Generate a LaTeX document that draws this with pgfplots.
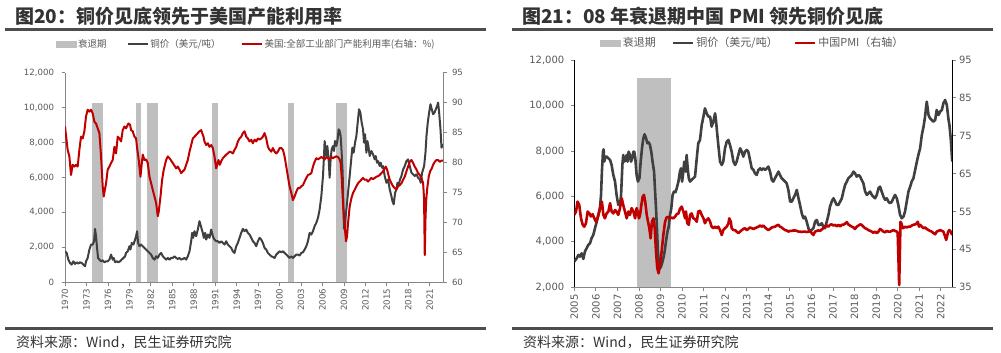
\documentclass[border=0pt]{standalone}
\usepackage{pgfplots}
\pgfplotsset{compat=1.18}
\usepackage{pgfplotstable}
\usepackage{fontspec}
\setmainfont{DejaVu Sans}
\newfontfamily\cjk{Noto Sans CJK SC}
\newfontfamily\dvs{DejaVu Sans}
\definecolor{recgray}{RGB}{191,191,191}
\definecolor{cugray}{RGB}{64,64,64}
\definecolor{cured}{RGB}{192,0,0}
\definecolor{tickc}{RGB}{89,89,89}
\definecolor{titlec}{RGB}{51,51,51}
\definecolor{rulec}{RGB}{77,77,77}
\definecolor{axc}{RGB}{134,134,134}

\pgfplotstableread{
x y
1970.00 1762
1970.23 1667
1970.47 1284
1970.70 1092
1970.93 996
1971.17 1188
1971.40 1034
1971.63 1130
1971.87 1054
1972.10 1130
1972.33 1092
1972.57 996
1972.80 900
1972.94 1188
1973.17 1379
1973.41 1858
1973.64 2146
1973.87 2146
1974.06 2337
1974.20 3046
1974.34 2625
1974.48 1954
1974.62 1379
1974.81 1284
1975.04 1188
1975.27 1245
1975.51 1130
1975.74 1188
1975.97 1188
1976.21 1284
1976.44 1571
1976.67 1284
1976.81 1379
1977.00 1130
1977.23 1188
1977.47 1130
1977.70 1188
1977.93 1284
1978.17 1379
1978.40 1475
1978.54 1667
1978.77 1762
1979.01 2050
1979.15 1858
1979.33 2241
1979.57 2146
1979.80 2433
1979.94 2625
1980.08 2912
1980.22 2241
1980.41 2050
1980.64 2146
1980.87 2050
1981.11 1954
1981.34 1858
1981.57 1762
1981.81 1667
1982.04 1571
1982.27 1379
1982.51 1284
1982.74 1475
1982.97 1379
1983.21 1571
1983.44 1667
1983.67 1475
1983.91 1379
1984.14 1284
1984.37 1379
1984.61 1284
1984.84 1379
1985.07 1379
1985.31 1475
1985.54 1379
1985.77 1322
1986.01 1379
1986.24 1284
1986.47 1322
1986.71 1379
1986.94 1284
1987.17 1475
1987.41 1762
1987.64 2337
1987.78 2816
1987.92 2529
1988.10 2912
1988.34 2625
1988.57 3008
1988.80 3487
1988.94 3295
1989.13 3008
1989.27 2816
1989.41 2529
1989.60 2816
1989.74 2433
1989.97 2720
1990.20 2529
1990.44 3008
1990.67 2625
1990.90 2433
1991.14 2337
1991.37 2337
1991.60 2241
1991.84 2337
1992.07 2241
1992.30 2146
1992.54 2337
1992.77 2146
1993.00 2050
1993.24 1954
1993.47 1762
1993.70 1667
1993.94 2050
1994.17 2241
1994.40 2529
1994.64 2816
1994.87 3046
1995.10 2912
1995.34 3008
1995.57 2816
1995.80 2720
1996.04 2529
1996.27 2337
1996.50 2241
1996.74 2050
1996.97 2337
1997.20 2529
1997.44 2433
1997.67 2241
1997.90 1954
1998.14 1858
1998.37 1667
1998.60 1571
1998.84 1475
1999.07 1437
1999.30 1379
1999.54 1571
1999.77 1667
2000.00 1762
2000.24 1705
2000.47 1762
2000.70 1667
2000.94 1571
2001.17 1475
2001.40 1379
2001.64 1475
2001.87 1379
2002.10 1475
2002.34 1571
2002.57 1571
2002.80 1514
2003.04 1667
2003.27 1705
2003.50 1858
2003.74 2050
2003.97 2337
2004.20 2816
2004.44 2720
2004.67 2912
2004.90 3199
2005.14 3391
2005.37 3678
2005.60 4157
2005.84 4923
2006.07 6073
2006.21 7222
2006.30 8084
2006.44 7605
2006.54 7222
2006.68 7797
2006.86 7031
2007.00 5977
2007.14 7031
2007.28 7605
2007.47 7797
2007.61 7509
2007.75 8084
2007.94 7797
2008.12 8180
2008.26 8755
2008.40 8659
2008.54 8372
2008.68 7414
2008.82 6264
2008.92 4500
2009.00 3100
2009.10 3000
2009.20 3600
2009.34 4157
2009.57 5115
2009.80 6073
2010.04 7126
2010.18 7701
2010.36 7414
2010.55 7989
2010.74 8372
2010.97 9330
2011.11 9904
2011.30 9713
2011.48 9138
2011.67 8755
2011.81 7989
2011.95 8467
2012.14 7414
2012.28 8084
2012.42 7797
2012.60 7222
2012.84 7509
2013.07 7318
2013.30 7031
2013.44 7222
2013.63 6839
2013.77 6935
2014.00 6648
2014.14 6839
2014.33 6552
2014.47 6648
2014.70 6073
2014.94 5690
2015.17 5881
2015.40 5307
2015.64 4923
2015.78 4636
2015.96 4450
2016.15 5115
2016.34 5307
2016.48 5690
2016.66 5594
2016.85 5881
2017.04 6073
2017.27 6456
2017.50 6648
2017.74 6935
2017.97 7031
2018.20 6648
2018.44 6264
2018.67 6169
2018.90 6073
2019.14 6169
2019.37 5977
2019.60 5881
2019.74 5690
2019.93 6264
2020.07 6456
2020.21 6648
2020.40 7414
2020.54 8372
2020.72 9138
2020.91 9713
2021.10 10192
2021.28 9904
2021.47 9617
2021.66 9713
2021.84 9904
2022.03 10096
2022.17 10287
2022.31 9713
2022.50 8755
2022.64 7701
2022.77 7797
2022.87 7893
}\lcopper

\pgfplotstableread{
x y
1970.00 86.0
1970.37 82.1
1970.61 81.0
1970.84 77.9
1971.07 79.6
1971.31 79.3
1971.54 79.6
1971.77 79.3
1972.01 82.1
1972.24 84.3
1972.47 84.0
1972.71 85.2
1972.94 87.7
1973.17 88.8
1973.41 88.5
1973.64 88.8
1973.87 88.2
1974.11 86.8
1974.34 86.5
1974.57 85.7
1974.81 84.9
1975.04 81.0
1975.27 76.0
1975.41 74.3
1975.74 76.5
1975.97 78.8
1976.21 79.3
1976.44 79.9
1976.67 80.4
1976.91 82.6
1977.14 81.5
1977.37 84.3
1977.61 84.0
1977.84 83.5
1978.07 85.4
1978.31 86.0
1978.54 85.7
1978.87 86.5
1979.10 86.3
1979.24 85.4
1979.47 85.2
1979.71 84.3
1979.94 84.0
1980.08 82.4
1980.31 80.4
1980.55 77.6
1980.69 79.3
1980.87 81.3
1981.11 80.4
1981.34 80.5
1981.57 79.9
1981.81 77.6
1982.04 76.5
1982.27 75.4
1982.51 74.3
1982.74 73.2
1982.97 71.0
1983.11 71.8
1983.35 74.3
1983.58 77.1
1983.81 78.8
1984.14 80.4
1984.37 81.0
1984.61 80.7
1985.07 79.9
1985.54 79.0
1985.77 79.3
1986.01 78.8
1986.24 78.2
1986.47 78.5
1986.71 78.8
1987.17 80.4
1987.41 81.8
1987.64 82.9
1987.87 84.0
1988.10 84.3
1988.34 84.6
1988.57 84.9
1988.80 85.2
1989.04 85.4
1989.18 84.9
1989.36 84.3
1989.50 83.5
1989.74 82.9
1989.97 83.2
1990.20 82.6
1990.44 82.9
1990.67 82.4
1990.90 81.0
1991.14 79.0
1991.28 79.6
1991.46 80.4
1991.65 79.6
1991.84 80.2
1992.07 80.7
1992.30 81.0
1992.54 81.3
1992.77 81.5
1993.00 81.8
1993.24 81.7
1993.47 81.5
1993.70 82.1
1993.94 82.6
1994.17 83.5
1994.40 84.0
1994.64 84.3
1994.87 84.9
1995.10 85.2
1995.34 84.3
1995.57 84.0
1995.80 83.5
1996.04 83.8
1996.27 83.2
1996.50 83.8
1996.74 83.5
1996.97 84.0
1997.20 83.8
1997.44 84.0
1997.67 84.3
1997.90 84.9
1998.14 84.0
1998.37 82.6
1998.60 82.1
1998.84 81.8
1999.07 82.4
1999.30 81.8
1999.54 81.5
1999.77 81.8
2000.00 82.4
2000.24 82.4
2000.47 82.1
2000.70 81.0
2000.94 79.3
2001.17 77.6
2001.40 76.0
2001.64 74.9
2001.87 73.7
2002.10 74.3
2002.34 75.1
2002.57 75.7
2002.80 75.7
2003.04 76.0
2003.27 76.2
2003.50 76.8
2003.74 77.4
2003.97 77.9
2004.20 78.0
2004.44 78.2
2004.67 79.3
2004.90 80.1
2005.14 80.7
2005.37 80.5
2005.60 80.7
2005.84 80.9
2006.07 80.7
2006.30 80.5
2006.54 80.9
2006.77 80.7
2007.00 80.5
2007.24 80.9
2007.47 80.7
2007.70 80.9
2007.94 81.0
2008.17 80.9
2008.40 80.5
2008.54 79.9
2008.68 77.6
2008.82 74.3
2008.96 71.5
2009.15 68.7
2009.29 66.8
2009.43 67.6
2009.57 69.8
2009.80 72.6
2010.04 74.0
2010.27 74.9
2010.50 75.4
2010.74 76.0
2010.97 76.5
2011.20 76.8
2011.44 77.1
2011.67 77.4
2011.90 77.1
2012.14 77.1
2012.37 76.8
2012.60 77.1
2012.84 77.4
2013.07 77.2
2013.30 77.4
2013.54 77.6
2013.77 77.7
2014.00 77.9
2014.24 78.2
2014.47 78.5
2014.70 79.0
2014.84 79.3
2015.03 78.8
2015.22 77.9
2015.40 77.1
2015.64 76.5
2015.87 76.0
2016.10 75.7
2016.34 75.5
2016.57 76.0
2016.80 76.2
2017.04 76.5
2017.27 77.1
2017.50 77.6
2017.74 78.5
2017.97 79.3
2018.20 80.1
2018.44 80.4
2018.67 79.9
2018.90 79.3
2019.14 78.8
2019.37 78.2
2019.60 77.9
2019.84 77.4
2020.07 76.5
2020.20 74.0
2020.30 64.5
2020.40 70.5
2020.50 73.7
2020.65 75.7
2020.85 77.6
2021.05 78.5
2021.28 79.0
2021.47 79.6
2021.70 80.1
2021.94 80.4
2022.17 80.4
2022.40 80.1
2022.64 80.3
2022.87 80.3
}\lcap

\pgfplotstableread{
x y
2005.00 3131
2005.11 3277
2005.19 3424
2005.26 3351
2005.34 3497
2005.42 3248
2005.49 3570
2005.57 3717
2005.65 3864
2005.73 3937
2005.80 4157
2005.88 4304
2005.96 4597
2006.04 4890
2006.11 5183
2006.19 5477
2006.24 6063
2006.28 7089
2006.33 7968
2006.36 8071
2006.39 7529
2006.44 7749
2006.50 7749
2006.58 7676
2006.66 7602
2006.73 7382
2006.81 6943
2006.89 6650
2006.96 6063
2007.04 5623
2007.12 5623
2007.17 6063
2007.23 7382
2007.27 7822
2007.32 7529
2007.37 7602
2007.43 7822
2007.47 7529
2007.52 7968
2007.58 7822
2007.63 7529
2007.69 7676
2007.74 7968
2007.78 7968
2007.83 7676
2007.89 6943
2007.95 6650
2008.02 6796
2008.08 7529
2008.14 8115
2008.20 8555
2008.26 8731
2008.33 8555
2008.39 8335
2008.45 8379
2008.51 8262
2008.57 7968
2008.63 7529
2008.70 7089
2008.74 6356
2008.79 5477
2008.84 4450
2008.88 3570
2008.93 2984
2008.98 2838
2009.02 2911
2009.07 3057
2009.13 3277
2009.19 3570
2009.25 4010
2009.32 4450
2009.38 4670
2009.44 5183
2009.50 5477
2009.56 6063
2009.62 6210
2009.69 6180
2009.75 6356
2009.83 6650
2009.90 7089
2009.95 7236
2010.00 6650
2010.04 6943
2010.10 7529
2010.17 7089
2010.21 7822
2010.26 7236
2010.31 6796
2010.37 6650
2010.44 6723
2010.52 6796
2010.60 6869
2010.68 7676
2010.75 8335
2010.83 8482
2010.91 9141
2010.99 9508
2011.06 9874
2011.14 9655
2011.22 9508
2011.30 9508
2011.37 9068
2011.45 9288
2011.53 9655
2011.57 9361
2011.62 8848
2011.68 8262
2011.76 7529
2011.84 7382
2011.91 7529
2011.99 8115
2012.07 8409
2012.15 8482
2012.22 8262
2012.30 7968
2012.38 7529
2012.46 7382
2012.53 7529
2012.61 7822
2012.69 8115
2012.77 7968
2012.84 7749
2012.92 7968
2013.00 8042
2013.07 7968
2013.15 7602
2013.23 7236
2013.31 7162
2013.38 7016
2013.46 6943
2013.54 7162
2013.62 7236
2013.69 7162
2013.77 7236
2013.85 7162
2013.93 7236
2014.00 7309
2014.08 7089
2014.16 6723
2014.23 6650
2014.31 6796
2014.39 6943
2014.47 7089
2014.54 6943
2014.62 6796
2014.70 6723
2014.78 6650
2014.85 6576
2014.93 6283
2015.01 5770
2015.09 5770
2015.16 5916
2015.24 6063
2015.32 6283
2015.40 5916
2015.47 5623
2015.55 5257
2015.63 5037
2015.70 5110
2015.78 4890
2015.86 4597
2015.94 4450
2016.01 4523
2016.09 4597
2016.17 4890
2016.25 4963
2016.32 4743
2016.40 4743
2016.48 4817
2016.55 4670
2016.63 4597
2016.71 4890
2016.79 5183
2016.86 5550
2016.94 5770
2017.02 5916
2017.10 5770
2017.17 5623
2017.25 5623
2017.33 5770
2017.41 5916
2017.48 6210
2017.56 6503
2017.64 6650
2017.71 6796
2017.79 6869
2017.87 6943
2017.95 7089
2018.02 7016
2018.10 6869
2018.18 6943
2018.26 6869
2018.33 6723
2018.41 6576
2018.49 6210
2018.57 6063
2018.64 6136
2018.72 6210
2018.80 6063
2018.87 5990
2018.95 5916
2019.03 6063
2019.11 6356
2019.18 6430
2019.26 6210
2019.34 5990
2019.42 5843
2019.49 5916
2019.57 5770
2019.65 5696
2019.73 5770
2019.80 5916
2019.88 6063
2019.96 5916
2020.03 5623
2020.11 5183
2020.19 5037
2020.27 5110
2020.34 5330
2020.42 5770
2020.50 6210
2020.58 6430
2020.65 6650
2020.73 6796
2020.81 7162
2020.89 7529
2020.96 7822
2021.04 8115
2021.12 8702
2021.20 9068
2021.27 9508
2021.32 9948
2021.35 10167
2021.43 9581
2021.50 9435
2021.58 9361
2021.66 9288
2021.74 9361
2021.81 9801
2021.89 9581
2021.97 9728
2022.05 9801
2022.12 10094
2022.20 10240
2022.28 10021
2022.36 9361
2022.40 9141
2022.46 8555
2022.53 7529
}\rcopper

\pgfplotstableread{
x y
2005.00 54.1
2005.08 55.0
2005.15 57.6
2005.23 56.7
2005.31 53.2
2005.39 51.5
2005.46 51.0
2005.54 51.9
2005.62 55.0
2005.70 54.5
2005.77 53.7
2005.85 54.3
2005.93 53.2
2006.01 52.3
2006.08 53.2
2006.16 55.0
2006.24 57.2
2006.28 57.6
2006.35 54.1
2006.42 53.2
2006.50 54.5
2006.58 55.0
2006.66 57.2
2006.73 55.0
2006.81 54.5
2006.89 55.4
2006.96 55.0
2007.04 54.1
2007.12 55.9
2007.20 58.5
2007.27 56.7
2007.35 55.0
2007.43 53.2
2007.51 55.0
2007.58 54.1
2007.66 55.9
2007.74 55.0
2007.82 53.2
2007.89 55.9
2007.94 55.0
2008.00 53.2
2008.05 54.1
2008.11 56.7
2008.17 58.9
2008.23 59.4
2008.29 57.6
2008.36 54.1
2008.42 52.3
2008.48 50.6
2008.54 47.9
2008.60 52.3
2008.67 53.2
2008.73 50.6
2008.79 44.4
2008.85 40.0
2008.91 38.7
2008.98 40.9
2009.05 44.4
2009.13 48.8
2009.21 52.3
2009.28 53.4
2009.36 53.6
2009.44 53.2
2009.52 53.4
2009.59 53.2
2009.67 53.6
2009.75 54.3
2009.83 54.5
2009.90 55.7
2009.98 56.3
2010.06 55.0
2010.14 53.2
2010.18 55.0
2010.24 51.9
2010.31 51.5
2010.37 54.1
2010.44 54.5
2010.52 53.2
2010.60 53.0
2010.68 52.3
2010.75 55.0
2010.83 55.2
2010.91 54.1
2010.99 53.2
2011.06 51.9
2011.14 52.8
2011.22 53.2
2011.30 52.3
2011.37 51.0
2011.45 50.6
2011.53 51.0
2011.61 50.6
2011.68 51.0
2011.76 50.1
2011.84 48.8
2011.91 50.1
2011.99 50.6
2012.07 51.0
2012.15 51.9
2012.19 53.2
2012.26 52.3
2012.30 50.6
2012.38 50.1
2012.46 50.1
2012.53 49.7
2012.61 49.3
2012.69 49.7
2012.77 50.1
2012.84 50.4
2012.92 50.6
2013.00 50.1
2013.07 50.4
2013.15 50.8
2013.23 50.6
2013.31 50.4
2013.38 50.6
2013.46 50.8
2013.54 51.0
2013.62 51.3
2013.69 51.0
2013.77 51.3
2013.85 50.8
2013.93 50.4
2014.00 50.1
2014.08 50.4
2014.16 50.8
2014.23 50.9
2014.31 51.0
2014.39 51.3
2014.47 51.5
2014.54 51.0
2014.62 50.8
2014.70 50.4
2014.78 50.1
2014.85 50.0
2014.93 49.7
2015.01 49.9
2015.09 49.9
2015.16 50.0
2015.24 50.0
2015.32 49.9
2015.40 49.7
2015.47 49.7
2015.55 49.6
2015.63 49.7
2015.70 49.7
2015.78 49.6
2015.86 49.7
2015.94 49.9
2016.01 49.3
2016.09 48.8
2016.17 49.7
2016.25 49.9
2016.32 50.0
2016.40 49.9
2016.55 50.6
2016.63 51.0
2016.71 51.3
2016.79 51.0
2016.86 51.5
2016.94 51.6
2017.02 51.3
2017.10 51.5
2017.17 51.1
2017.25 51.5
2017.33 51.1
2017.41 51.5
2017.48 51.5
2017.56 51.8
2017.64 52.2
2017.71 51.6
2017.79 51.3
2017.87 51.0
2017.95 50.8
2018.02 50.4
2018.10 51.0
2018.18 51.3
2018.26 51.6
2018.33 51.5
2018.41 51.0
2018.49 50.6
2018.57 50.4
2018.64 50.1
2018.72 49.9
2018.80 49.7
2018.87 49.4
2018.95 49.7
2019.03 49.3
2019.11 49.7
2019.18 50.4
2019.26 50.1
2019.34 49.7
2019.42 49.5
2019.49 49.9
2019.57 49.7
2019.65 49.7
2019.73 49.9
2019.80 50.1
2019.88 49.9
2019.96 49.7
2020.00 49.3
2020.03 43.5
2020.07 35.6
2020.10 43.5
2020.13 52.3
2020.17 51.9
2020.24 50.6
2020.30 50.8
2020.36 51.0
2020.42 50.8
2020.50 51.0
2020.58 51.0
2020.65 51.3
2020.73 51.5
2020.81 51.6
2020.89 51.9
2020.93 52.3
2020.99 51.0
2021.04 51.5
2021.12 51.0
2021.20 50.6
2021.27 50.8
2021.35 50.4
2021.43 50.1
2021.50 49.9
2021.58 49.7
2021.66 49.3
2021.74 49.0
2021.81 49.7
2021.89 49.9
2021.97 50.1
2022.05 49.9
2022.12 49.7
2022.20 48.4
2022.25 47.5
2022.29 48.4
2022.34 49.7
2022.40 50.1
2022.46 49.7
2022.53 48.8
}\rpmi

\pgfplotsset{
  areaimg/.style={legend image code/.code={\fill[recgray] (0bp,-3bp) rectangle (20bp,3bp);}},
  common/.style={
    scale only axis, anchor=south west,
    tick align=outside, major tick length=3.5bp,
    /pgf/number format/assume math mode=true,
    scaled y ticks=false,
    xticklabel style={rotate=90, anchor=east, text=tickc, /pgf/number format/1000 sep={}},
    yticklabel style={text=tickc, /pgf/number format/1000 sep={,}},
  },
}

\begin{document}
\begin{tikzpicture}
\useasboundingbox (0bp,0bp) rectangle (1001bp,353bp);
% titles and rules
\node[anchor=west, inner sep=0pt, font=\cjk\bfseries\fontsize{19bp}{22bp}\selectfont, text=titlec] at (15bp,336.5bp) {图20：铜价见底领先于美国产能利用率};
\node[anchor=west, inner sep=0pt, font=\cjk\bfseries\fontsize{19bp}{22bp}\selectfont, text=titlec] at (522bp,336.5bp) {图21：08 年衰退期中国 PMI 领先铜价见底};
\draw[rulec, line width=2.6bp] (5bp,323.5bp) -- (486bp,323.5bp);
\draw[rulec, line width=2.6bp] (512bp,323.5bp) -- (993bp,323.5bp);
\draw[rulec, line width=3bp] (5bp,24.7bp) -- (486bp,24.7bp);
\draw[rulec, line width=3bp] (512bp,24.7bp) -- (993bp,24.7bp);
\node[anchor=west, inner sep=0pt, font=\cjk\fontsize{14bp}{16bp}\selectfont, text=titlec] at (16bp,10.5bp) {资料来源：Wind，民生证券研究院};
\node[anchor=west, inner sep=0pt, font=\cjk\fontsize{14bp}{16bp}\selectfont, text=titlec] at (523bp,10.5bp) {资料来源：Wind，民生证券研究院};

% ---------- left panel ----------
\begin{axis}[common,
  at={(65bp,71bp)}, width=378bp, height=209.3bp,
  xmin=1970, xmax=2022.85, ymin=0, ymax=12000,
  axis x line*=bottom, axis y line*=left,
  axis line style={axc, line width=0.9bp},
  tick style={axc, line width=0.8bp},
  xtick={1970,1973,...,2021}, ytick={0,2000,...,12000},
  ticklabel style={font=\dvs\fontsize{8.6bp}{9bp}\selectfont},
  yticklabel style={xshift=-4bp},
]
\addplot[fill=recgray, draw=none] coordinates {(1973.78,0) (1973.78,10286) (1975.27,10286) (1975.27,0)} -- cycle;
\addplot[fill=recgray, draw=none] coordinates {(1979.99,0) (1979.99,10286) (1980.69,10286) (1980.69,0)} -- cycle;
\addplot[fill=recgray, draw=none] coordinates {(1981.53,0) (1981.53,10286) (1982.97,10286) (1982.97,0)} -- cycle;
\addplot[fill=recgray, draw=none] coordinates {(1990.53,0) (1990.53,10286) (1991.33,10286) (1991.33,0)} -- cycle;
\addplot[fill=recgray, draw=none] coordinates {(2001.12,0) (2001.12,10286) (2001.96,10286) (2001.96,0)} -- cycle;
\addplot[fill=recgray, draw=none] coordinates {(2007.89,0) (2007.89,10286) (2009.48,10286) (2009.48,0)} -- cycle;
\addplot[cugray, line width=2bp, line join=round] table {\lcopper};
\end{axis}
\begin{axis}[common,
  at={(65bp,71bp)}, width=378bp, height=209.3bp,
  xmin=1970, xmax=2022.85, ymin=60, ymax=95,
  axis x line=none, axis y line*=right,
  axis line style={axc, line width=0.9bp},
  tick style={axc, line width=0.8bp},
  ytick={60,65,...,95},
  ticklabel style={font=\dvs\fontsize{8.6bp}{9bp}\selectfont},
  yticklabel style={xshift=2bp},
  legend image code/.code={\draw[#1] (0bp,0bp) -- (20bp,0bp);},
  legend style={at={(0.479,1.137)}, anchor=center, draw=none, fill=none,
    legend columns=3, font=\cjk\fontsize{9.5bp}{11bp}\selectfont, text=tickc,
    /tikz/every even column/.append style={column sep=18bp}, inner sep=0pt},
  legend cell align=left,
]
\addlegendimage{areaimg}
\addlegendentry{衰退期}
\addlegendimage{cugray, line width=2bp}
\addlegendentry{铜价（美元/吨）}
\addplot[cured, line width=2bp, line join=round] table {\lcap};
\addlegendentry{美国:全部工业部门产能利用率(右轴：\%)}
\end{axis}

% ---------- right panel ----------
\begin{axis}[common,
  at={(574.3bp,65.7bp)}, width=377.7bp, height=227.3bp,
  xmin=2005, xmax=2022.52, ymin=2000, ymax=12000,
  axis x line*=bottom, axis y line*=left,
  x axis line style={axc, line width=0.9bp},
  y axis line style={black, line width=0.9bp},
  tick style={axc, line width=0.8bp},
  xtick={2005,2006,...,2022}, ytick={2000,4000,...,12000},
  ticklabel style={font=\dvs\fontsize{10bp}{11bp}\selectfont},
  yticklabel style={xshift=-3bp},
]
\addplot[fill=recgray, draw=none] coordinates {(2007.89,2000) (2007.89,11200) (2009.49,11200) (2009.49,2000)} -- cycle;
\addplot[cugray, line width=2.6bp, line join=round] table {\rcopper};
\end{axis}
\begin{axis}[common,
  at={(574.3bp,65.7bp)}, width=377.7bp, height=227.3bp,
  xmin=2005, xmax=2022.52, ymin=35, ymax=95,
  axis x line=none, axis y line*=right,
  axis line style={black, line width=0.9bp},
  tick style={axc, line width=0.8bp},
  ytick={35,45,...,95},
  ticklabel style={font=\dvs\fontsize{10bp}{11bp}\selectfont},
  legend image code/.code={\draw[#1] (0bp,0bp) -- (20bp,0bp);},
  legend style={at={(0.473,1.075)}, anchor=center, draw=none, fill=none,
    legend columns=3, font=\cjk\fontsize{11bp}{12bp}\selectfont, text=tickc,
    /tikz/every even column/.append style={column sep=14bp}, inner sep=0pt},
  legend cell align=left,
]
\addlegendimage{areaimg}
\addlegendentry{衰退期}
\addlegendimage{cugray, line width=2.6bp}
\addlegendentry{铜价（美元/吨）}
\addplot[cured, line width=2.6bp, line join=round] table {\rpmi};
\addlegendentry{中国PMI（右轴）}
\end{axis}
\end{tikzpicture}
\end{document}
